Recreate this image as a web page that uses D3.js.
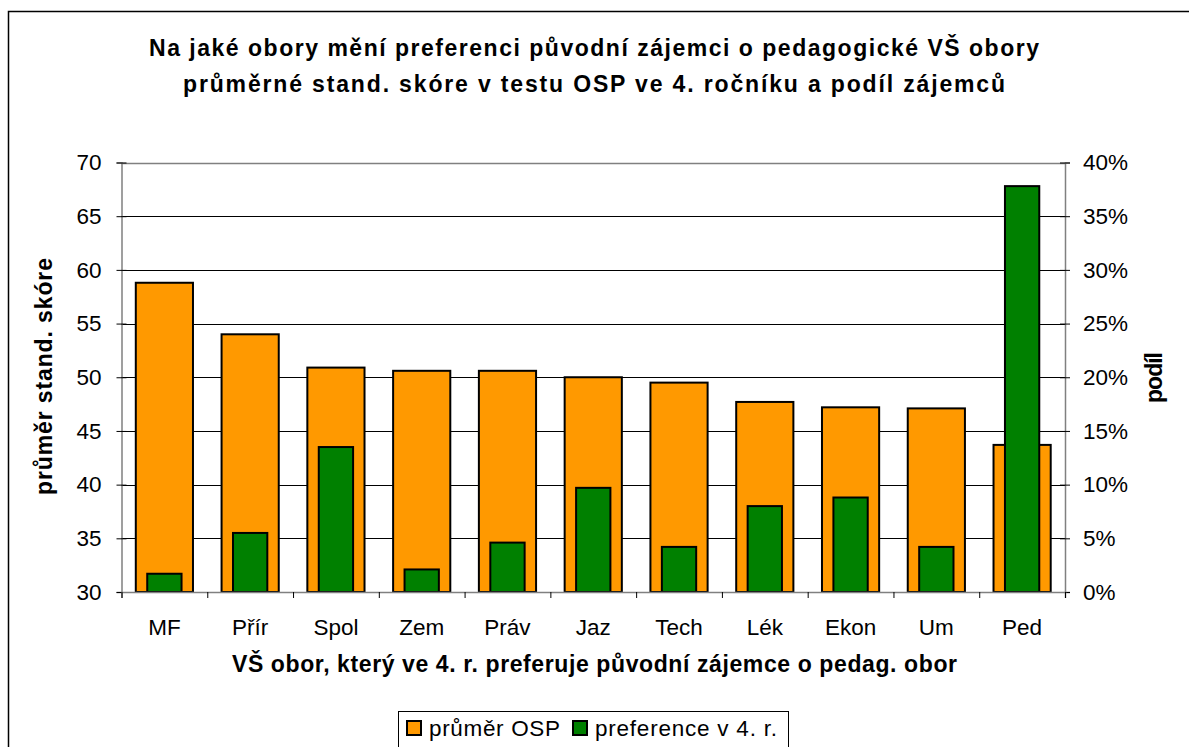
<!DOCTYPE html>
<html>
<head>
<meta charset="utf-8">
<script src="https://cdn.jsdelivr.net/npm/d3@7"></script>
<style>
  body { margin: 0; background: #fff; }
  svg { display: block; font-family: "Liberation Sans", Arial, sans-serif; }
</style>
</head>
<body>
<svg id="chart"></svg>
<script>
// categories and values
const categories = ['MF', 'Přír', 'Spol', 'Zem', 'Práv', 'Jaz', 'Tech', 'Lék', 'Ekon', 'Um', 'Ped'];
const avgOSP = [58.8, 54.0, 50.9, 50.6, 50.6, 50.0, 49.5, 47.7, 47.2, 47.1, 43.7];
const preference = [1.7, 5.5, 13.5, 2.1, 4.6, 9.7, 4.2, 8.0, 8.8, 4.2, 37.8]; // percent
const leftTicks = [30, 35, 40, 45, 50, 55, 60, 65, 70];
const rightTicks = [0, 5, 10, 15, 20, 25, 30, 35, 40];
const titleLines = [
  'Na jaké obory mění preferenci původní zájemci o pedagogické VŠ obory',
  'průměrné stand. skóre v testu OSP ve 4. ročníku a podíl zájemců'
];

const width = 1189;
const height = 747;
const plotLeft = 121.5, plotRight = 1065, plotTop = 162.5, plotBottom = 592;
const orange = '#FF9900';
const green = '#008000';

const svg = d3.select('#chart')
  .attr('width', width)
  .attr('height', height);

svg.append('rect')
  .attr('width', width).attr('height', height)
  .attr('fill', '#fff');

// outer frame
svg.append('rect')
  .attr('x', 8.5).attr('y', 11.5)
  .attr('width', 1300).attr('height', 900)
  .attr('fill', 'none').attr('stroke', '#000').attr('stroke-width', 1.5);

// title (bold text in the original renders wider, so stretch to its width)
const titleWidths = [890, 822];
svg.append('g')
  .selectAll('text')
  .data(titleLines)
  .enter()
  .append('text')
  .attr('x', 594)
  .attr('y', (d, i) => 56 + i * 36)
  .attr('text-anchor', 'middle')
  .attr('textLength', (d, i) => titleWidths[i])
  .attr('lengthAdjust', 'spacing')
  .style('font-weight', 'bold').style('font-size', '23px')
  .text(d => d);

const yLeft = d3.scaleLinear().domain([30, 70]).range([plotBottom, plotTop]);
const yRight = d3.scaleLinear().domain([0, 40]).range([plotBottom, plotTop]);

const xOrange = d3.scaleBand().domain(categories).range([plotLeft, plotRight])
  .paddingInner(1 / 3).paddingOuter(1 / 6);
const xGreen = d3.scaleBand().domain(categories).range([plotLeft, plotRight])
  .paddingInner(0.6).paddingOuter(0.3);
const xCat = d3.scaleBand().domain(categories).range([plotLeft, plotRight]);
const xEdges = d3.scaleLinear().domain([0, categories.length]).range([plotLeft, plotRight]);

// gridlines
svg.append('g')
  .selectAll('line')
  .data(leftTicks.slice(1))
  .enter()
  .append('line')
  .attr('x1', plotLeft).attr('x2', plotRight)
  .attr('y1', d => Math.round(yLeft(d)) + 0.5)
  .attr('y2', d => Math.round(yLeft(d)) + 0.5)
  .attr('stroke', d => d === 70 ? '#808080' : '#000')
  .attr('stroke-width', d => d === 70 ? 1.5 : 1);

// orange bars (left axis)
svg.append('g')
  .selectAll('rect')
  .data(categories)
  .enter()
  .append('rect')
  .attr('x', d => xOrange(d))
  .attr('y', (d, i) => yLeft(avgOSP[i]))
  .attr('width', xOrange.bandwidth())
  .attr('height', (d, i) => plotBottom - yLeft(avgOSP[i]))
  .attr('fill', orange)
  .attr('stroke', '#000').attr('stroke-width', 2);

// green bars (right axis)
svg.append('g')
  .selectAll('rect')
  .data(categories)
  .enter()
  .append('rect')
  .attr('x', d => xGreen(d))
  .attr('y', (d, i) => yRight(preference[i]))
  .attr('width', xGreen.bandwidth())
  .attr('height', (d, i) => plotBottom - yRight(preference[i]))
  .attr('fill', green)
  .attr('stroke', '#000').attr('stroke-width', 2);

// left axis
const leftAxis = svg.append('g')
  .attr('transform', `translate(${plotLeft}, 0)`)
  .call(d3.axisLeft(yLeft).tickValues(leftTicks).tickSize(5).tickPadding(15));
leftAxis.selectAll('.tick line').attr('x1', 5).attr('x2', -5);

// right axis
const rightAxis = svg.append('g')
  .attr('transform', `translate(${plotRight}, 0)`)
  .call(d3.axisRight(yRight).tickValues(rightTicks).tickSize(5).tickPadding(13)
    .tickFormat(d => d + '%'));
rightAxis.selectAll('.tick line').attr('x1', -5).attr('x2', 5);

// bottom axis: boundary ticks + category labels
svg.append('g')
  .attr('transform', `translate(0, ${plotBottom})`)
  .call(d3.axisBottom(xEdges).ticks(categories.length).tickSize(6).tickFormat(''));
svg.append('g')
  .attr('class', 'cat-axis')
  .attr('transform', `translate(0, ${plotBottom})`)
  .call(d3.axisBottom(xCat).tickSize(0).tickPadding(27))
  .select('.domain').remove();

svg.selectAll('.domain').attr('stroke', '#808080').attr('stroke-width', 1.5);
svg.selectAll('.tick line').attr('stroke', '#000');
svg.selectAll('.tick text')
  .style('font-size', '22.5px')
  .style('font-family', '"Liberation Sans", Arial, sans-serif')
  .attr('fill', '#000');

// axis titles
svg.append('text')
  .attr('x', 594.5).attr('y', 672)
  .attr('text-anchor', 'middle')
  .attr('textLength', 725).attr('lengthAdjust', 'spacing')
  .style('font-weight', 'bold').style('font-size', '23px')
  .text('VŠ obor, který ve 4. r. preferuje původní zájemce o pedag. obor');

svg.append('text')
  .attr('transform', 'translate(52, 376.5) rotate(-90)')
  .attr('text-anchor', 'middle')
  .attr('textLength', 237).attr('lengthAdjust', 'spacing')
  .style('font-weight', 'bold').style('font-size', '23px')
  .text('průměr stand. skóre');

svg.append('text')
  .attr('transform', 'translate(1162, 377.5) rotate(-90)')
  .attr('text-anchor', 'middle')
  .attr('textLength', 51).attr('lengthAdjust', 'spacing')
  .style('font-weight', 'bold').style('font-size', '23px')
  .text('podíl');

// legend
const legendItems = [
  { label: 'průměr OSP', color: orange, x: 407, w: 131 },
  { label: 'preference v 4. r.', color: green, x: 573, w: 182 }
];
const legend = svg.append('g');
legend.append('rect')
  .attr('x', 398.5).attr('y', 711.5)
  .attr('width', 390).attr('height', 60)
  .attr('fill', '#fff').attr('stroke', '#000').attr('stroke-width', 1);
const item = legend.selectAll('g')
  .data(legendItems)
  .enter()
  .append('g')
  .attr('transform', d => `translate(${d.x}, 721)`);
item.append('rect')
  .attr('width', 14).attr('height', 14)
  .attr('fill', d => d.color)
  .attr('stroke', '#000').attr('stroke-width', 2);
item.append('text')
  .attr('x', 22).attr('y', 15)
  .attr('textLength', d => d.w).attr('lengthAdjust', 'spacing')
  .style('font-size', '22.5px')
  .text(d => d.label);
</script>
</body>
</html>
